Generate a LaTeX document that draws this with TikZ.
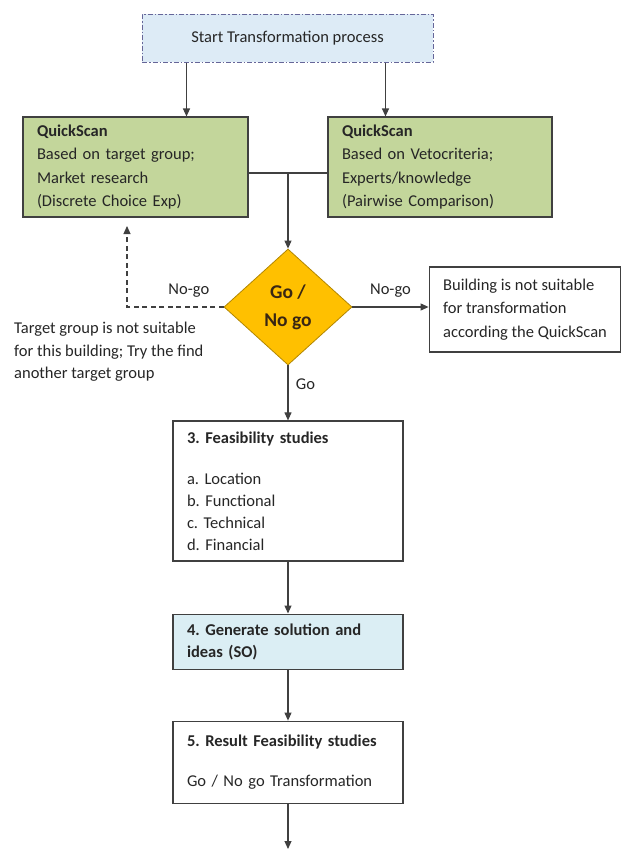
\documentclass[tikz,border=0pt]{standalone}
\usepackage{fontspec}
\setmainfont{Carlito}
\usetikzlibrary{arrows.meta,positioning,shapes.geometric,calc}
\frenchspacing

\definecolor{startblue}{HTML}{DDEBF6}
\definecolor{scangreen}{HTML}{C3D69B}
\definecolor{decgold}{HTML}{FFC000}
\definecolor{solblue}{HTML}{DBEEF4}
\definecolor{linegray}{HTML}{404040}

\begin{document}
\begin{tikzpicture}[
  x=1pt, y=-1pt,
  font=\fontsize{16.5}{23.5}\selectfont,
  text=black!85,
  box/.style={draw=linegray, line width=1.1pt, align=left, inner xsep=14pt, inner ysep=3pt},
  startbox/.style={draw=gray!80!blue, line width=1pt, fill=startblue,
    dash pattern=on 5pt off 2pt on 1.5pt off 2pt, minimum width=291pt, minimum height=48pt},
  scanbox/.style={box, fill=scangreen, minimum height=100pt},
  stepbox/.style={box, text width=202pt},
  decision/.style={diamond, draw=decgold!70!black, line width=0.8pt, fill=decgold, inner sep=0pt,
    minimum width=128pt, minimum height=116pt, align=center, text=black!70!brown,
    font=\fontsize{19.5}{28}\selectfont\bfseries},
  flow/.style={-{Triangle[length=8pt,width=7pt]}, draw=linegray, line width=1.1pt},
  back/.style={flow, dash pattern=on 5pt off 3.5pt}
]
\useasboundingbox (0,0) rectangle (622,852);

% Start and quick scans
\node[startbox] (start) at (287.5,38) {Start Transformation process};

\node[scanbox, text width=197pt] (scanL) at (135.5,167) {\textbf{QuickScan}\\
Based on target group;\\
Market research\\
(Discrete Choice  Exp)};

\node[scanbox, text width=196pt] (scanR) at (440,167) {\textbf{QuickScan}\\
Based on Vetocriteria;\\
Experts/knowledge\\
(Pairwise Comparison)};

% Decision and its outcomes
\node[decision] (gonogo) at (288,307) {Go /\\No go};

\node[box, minimum width=190pt, minimum height=85pt] (unsuit) at (525,309.5) {Building is not suitable\\
for transformation\\
according the QuickScan};

\node[align=left, anchor=west, inner sep=0pt, font=\fontsize{16.5}{22.5}\selectfont] (retry) at (14,352) {Target group is not suitable\\
for this building; Try the find\\
another target group};

\coordinate (backup) at (127,226);

% Main column
\node[stepbox, below=55pt of gonogo, minimum height=140pt, font=\fontsize{16.5}{22}\selectfont] (feas) {\textbf{3. Feasibility studies}\\[19pt]
a. Location\\
b. Functional\\
c. Technical\\
d. Financial};

\node[stepbox, fill=solblue, below=52pt of feas, minimum height=55pt, font=\fontsize{16.5}{22}\selectfont\bfseries] (solution) {4. Generate solution  and\\
ideas (SO)};

\node[stepbox, below=51pt of solution, minimum height=82pt] (result) {\textbf{5. Result Feasibility studies}\\[17pt]
Go / No go Transformation};

\coordinate (exit) at (288,849);

% Connectors
\draw[flow] ([xshift=45pt]start.south west) -- ([xshift=45pt]start.south west |- scanL.north);
\draw[flow] ([xshift=244pt]start.south west) -- ([xshift=244pt]start.south west |- scanR.north);

\path ([yshift=-6pt]scanL.east) coordinate (linkL) ([yshift=-6pt]scanR.west) coordinate (linkR);
\draw[flow, -] (linkL) -- (linkR);
\draw[flow] (linkL -| gonogo.north) -- (gonogo.north);

\draw[back] (gonogo.west) -| node[pos=0.18, above=6pt] (nogoL) {No-go} (backup);
\draw[flow] (gonogo.east) -- node[above=6pt] (nogoR) {No-go} (gonogo.east -| unsuit.west);
\draw[flow] (gonogo.south) -- node[right=4pt, pos=0.35] (golbl) {Go} (feas.north);

\draw[flow] (feas.south) -- (solution.north);
\draw[flow] (solution.south) -- (result.north);
\draw[flow] (result.south) -- (exit);

\end{tikzpicture}
\end{document}
